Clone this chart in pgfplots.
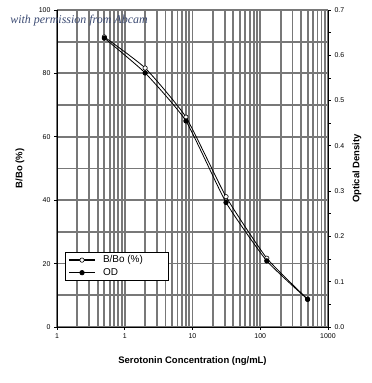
\documentclass[border=0pt]{standalone}
\usepackage{pgfplots}
\pgfplotsset{compat=1.18}
\usepackage{fontspec}
\setmainfont{Liberation Sans}
\newfontfamily\wmfont{Liberation Serif}
\definecolor{gridgray}{RGB}{120,120,120}
\definecolor{wmblue}{RGB}{60,75,115}
\begin{document}
\begin{tikzpicture}
\begin{axis}[
  name=main,
  scale only axis,
  width=271bp, height=317bp,
  xmode=log, log basis x=10,
  xmin=0.1, xmax=1000,
  ymin=0, ymax=100,
  xtick={0.1,1,10,100,1000},
  xticklabels={1,1,10,100,1000},
  minor xtick={0.2,0.3,0.4,0.5,0.6,0.7,0.8,0.9,2,3,4,5,6,7,8,9,20,30,40,50,60,70,80,90,200,300,400,500,600,700,800,900},
  ytick={0,20,...,100},
  minor ytick={10,30,...,90},
  grid=both,
  major grid style={gridgray, line width=1.8bp},
  minor grid style={gridgray, line width=1.8bp},
  axis line style={black, line width=0.8bp},
  tick style={black, line width=0.8bp},
  tick align=outside,
  major tick length=3bp,
  minor tick length=0bp,
  axis y line*=left,
  axis x line*=bottom,
  /pgf/number format/assume math mode=true,
  ticklabel style={font=\fontsize{7}{8}\selectfont},
  xlabel={\bfseries Serotonin Concentration (ng/mL)},
  ylabel={\bfseries B/Bo (\%)},
  label style={font=\fontsize{9.5}{11}\selectfont},
  xlabel style={at={(axis description cs:0.5,-0.107)}, anchor=center},
  ylabel style={at={(axis description cs:-0.1365,0.5)}, anchor=center},
  legend style={at={(axis description cs:0.03,0.237)}, anchor=north west,
    draw=black, line width=0.8bp, font=\fontsize{10}{12}\selectfont,
    inner xsep=3bp, inner ysep=1.5bp, row sep=0pt},
  legend cell align=left,
  legend image code/.code={
    \draw[#1, line width=1.5bp] (0cm,0cm) -- (0.9cm,0cm);
    \draw[#1, mark repeat=2, mark phase=2] plot coordinates {(0cm,0cm) (0.45cm,0cm) (0.9cm,0cm)};
  },
  clip=false,
]
\addplot[black, line width=0.8bp, smooth, tension=0.3, mark=*, mark size=2.2bp,
  mark options={fill=white, draw=black, line width=0.6bp}]
  coordinates {(0.5,91.5) (2,81.7) (8,66.2) (31.25,41.1) (125,21.7) (500,8.8)};
\addlegendentry{\makebox[66bp][l]{\ \ B/Bo (\%)}}
\addlegendimage{black, line width=0.8bp, mark=*, mark size=2.2bp, mark options={fill=black}}
\addlegendentry{\ \ OD}
\node[anchor=west, font=\wmfont\itshape\fontsize{12}{14}\selectfont, text=wmblue, inner sep=0pt]
  at (axis description cs:-0.173,0.968) {with permission from Abcam};
\end{axis}
\begin{axis}[
  scale only axis,
  width=271bp, height=317bp,
  xmode=log, log basis x=10,
  xmin=0.1, xmax=1000,
  ymin=0, ymax=0.7,
  hide x axis,
  axis y line*=right,
  ytick={0,0.1,...,0.7},
  minor ytick={0.05,0.15,...,0.65},
  yticklabel style={/pgf/number format/.cd, fixed, fixed zerofill, precision=1},
  /pgf/number format/assume math mode=true,
  ticklabel style={font=\fontsize{7}{8}\selectfont},
  axis line style={black, line width=0.8bp},
  tick style={black, line width=0.8bp},
  tick align=outside,
  major tick length=3bp,
  minor tick length=3bp,
  ylabel={\bfseries Optical Density},
  label style={font=\fontsize{9.5}{11}\selectfont},
  ylabel style={at={(axis description cs:1.107,0.5)}, anchor=center, rotate=0},
  clip=false,
]
\addplot[black, line width=0.8bp, smooth, tension=0.3, mark=*, mark size=2.2bp,
  mark options={fill=black, draw=black}]
  coordinates {(0.5,0.638) (2,0.561) (8,0.455) (31.25,0.275) (125,0.146) (500,0.061)};
\end{axis}
\useasboundingbox ([shift={(-57bp,-56bp)}]main.south west) rectangle ([shift={(44bp,10bp)}]main.north east);
\end{tikzpicture}
\end{document}
